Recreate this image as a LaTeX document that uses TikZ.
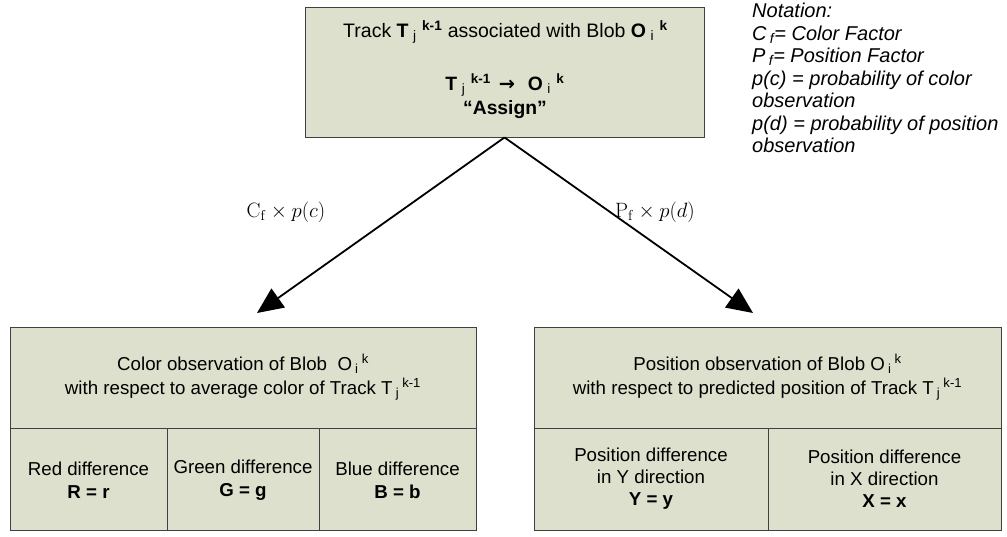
\documentclass[tikz,border=0pt]{standalone}
\usepackage[no-math]{fontspec}
\setmainfont{Liberation Sans}
\newfontfamily\arrfont{DejaVu Sans}
\usetikzlibrary{arrows.meta}
\definecolor{boxfill}{RGB}{221,224,204}
\definecolor{boxline}{RGB}{64,64,64}
\newcommand{\sbs}[1]{\,\textsubscript{#1}}
\newcommand{\sps}[1]{\,\textsuperscript{#1}}
\newcommand{\tsb}[1]{\hspace{4.5pt}\textsubscript{#1}}
\newcommand{\tsp}[1]{\hspace{5.5pt}\textsuperscript{#1}}
\begin{document}
\begin{tikzpicture}[x=1pt,y=-1pt,
  cell/.style={draw=boxline,fill=boxfill,line width=0.9pt},
  txt/.style={font=\fontsize{18.7}{23}\selectfont,align=center,inner sep=0pt},
  conn/.style={line width=1.8pt,-{Triangle[length=26pt,width=23pt]}},
  lbl/.style={font=\fontsize{20}{24}\selectfont,inner sep=0pt}]
\useasboundingbox (0,0) rectangle (1007,536);
% top box
\node[cell,minimum width=399pt,minimum height=130pt,inner sep=0pt] (top) at (504.5,72) {};
\node[txt,font=\fontsize{19.5}{23}\selectfont] (t1) at (505.5,32) {Track \textbf{T}\tsb{j}\tsp{\textbf{k-1}} associated with Blob \textbf{O}\tsb{i}\tsp{\textbf{k}}};
\node[txt,font=\fontsize{19.3}{23}\selectfont] (t2) at (505,85) {\textbf{T}\tsb{j}\tsp{\textbf{k-1}}\hspace{8pt}{\arrfont\bfseries\char"2192}\hspace{13pt}\textbf{O}\tsb{i}\tsp{\textbf{k}}};
\node[txt,font=\fontsize{19.3}{23}\selectfont] (t3) at (505,110) {\textbf{``Assign''}};
% notation
\node[font=\itshape\fontsize{20}{22.5}\selectfont,align=left,anchor=north west,inner sep=0pt] (note) at (752,3)
 {Notation:\\ C\sbs{f}= Color Factor\\ P\sbs{f}= Position Factor\\ p(c) = probability of color\\ observation\\ p(d) = probability of position\\ observation};
% left box
\node[cell,minimum width=466pt,minimum height=101pt,inner sep=0pt] (lhead) at (243,377.5) {};
\node[cell,minimum width=157pt,minimum height=102pt,inner sep=0pt] (lr) at (88.5,479) {};
\node[cell,minimum width=152pt,minimum height=102pt,inner sep=0pt] (lg) at (243,479) {};
\node[cell,minimum width=157pt,minimum height=102pt,inner sep=0pt] (lb) at (397.5,479) {};
\node[txt] at (lhead) {Color observation of Blob \ O\sbs{i}\sps{k}\\[1pt] with respect to average color of Track T\sbs{j}\sps{k-1}};
\node[txt] at ([yshift=-1pt]lr.center) {Red difference\\ \textbf{R = r}};
\node[txt] at ([yshift=-1pt]lg.center) {Green difference\\ \textbf{G = g}};
\node[txt] at ([yshift=-1pt]lb.center) {Blue difference\\ \textbf{B = b}};
% right box
\node[cell,minimum width=467pt,minimum height=101pt,inner sep=0pt] (rhead) at (767.5,377.5) {};
\node[cell,minimum width=234pt,minimum height=102pt,inner sep=0pt] (ry) at (651,479) {};
\node[cell,minimum width=233pt,minimum height=102pt,inner sep=0pt] (rx) at (884.5,479) {};
\node[txt] at (rhead) {Position observation of Blob O\sbs{i}\sps{k}\\[1pt] with respect to predicted position of Track T\sbs{j}\sps{k-1}};
\node[txt,font=\fontsize{18.7}{22}\selectfont] at (ry) {Position difference\\ in Y direction\\ \textbf{Y = y}};
\node[txt,font=\fontsize{18.7}{22}\selectfont] at (rx) {Position difference\\ in X direction\\ \textbf{X = x}};
% connectors
\coordinate (ltip) at (257,313);
\coordinate (rtip) at (753,313);
\draw[conn] (top.south) -- (ltip);
\draw[conn] (top.south) -- (rtip);
\node[lbl] (lc) at (286,212) {$\mathrm{C}_{\mathrm{f}}\times p(c)$};
\node[lbl] (lp) at (655,212) {$\mathrm{P}_{\mathrm{f}}\times p(d)$};
\end{tikzpicture}
\end{document}
